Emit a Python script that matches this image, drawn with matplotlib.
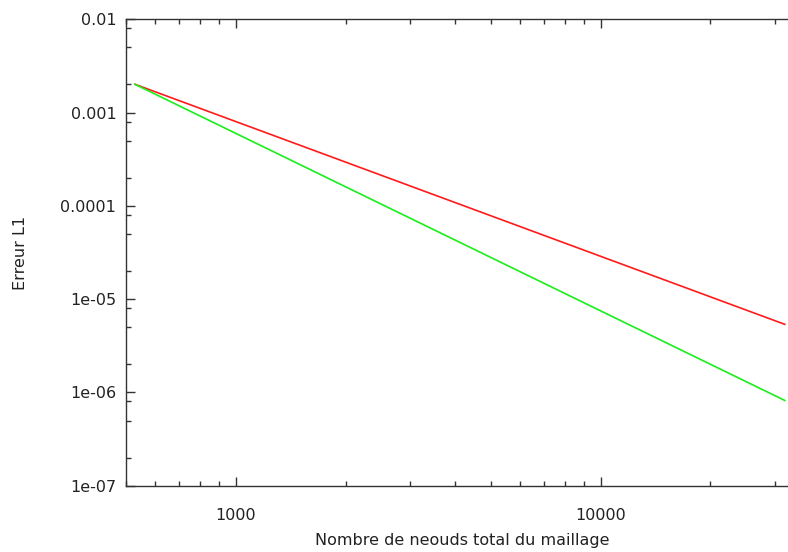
import matplotlib
matplotlib.use('Agg')
import matplotlib.pyplot as plt
from matplotlib.ticker import LogLocator, FixedLocator, FixedFormatter, NullFormatter

# nombre de noeuds du maillage et erreurs L1
nodes = [529, 32000]
err_red = [2.01e-3, 5.37e-6]
err_green = [2.01e-3, 8.2e-7]

x_major = [1000, 10000]
x_major_labels = ["1000", "10000"]
y_major = [1e-2, 1e-3, 1e-4, 1e-5, 1e-6, 1e-7]
y_major_labels = ["0.01", "0.001", "0.0001", "1e-05", "1e-06", "1e-07"]

fig = plt.figure(figsize=(7.88, 5.52), dpi=100)
# axes slightly wider than the image, the right border is cut off
ax = fig.add_axes([126 / 788, 1 - 485.7 / 552, (799 - 126) / 788, (485.7 - 19.3) / 552])

ax.plot(nodes, err_red, color='#ff1a1a', lw=1.2)
ax.plot(nodes, err_green, color='#1aee1a', lw=1.2)

ax.set_xscale('log')
ax.set_yscale('log')
ax.set_xlim(500, 35000)
ax.set_ylim(1e-7, 1e-2)

ax.xaxis.set_major_locator(FixedLocator(x_major))
ax.xaxis.set_major_formatter(FixedFormatter(x_major_labels))
ax.xaxis.set_minor_locator(LogLocator(base=10, subs=range(2, 10)))
ax.xaxis.set_minor_formatter(NullFormatter())

ax.yaxis.set_major_locator(FixedLocator(y_major))
ax.yaxis.set_major_formatter(FixedFormatter(y_major_labels))
ax.yaxis.set_minor_locator(LogLocator(base=10, subs=(2, 5, 8)))
ax.yaxis.set_minor_formatter(NullFormatter())

ax.tick_params(which='both', direction='in', top=True, right=True,
               color='#333333', width=1.0)
ax.tick_params(which='major', length=6.5, labelsize=11.5,
               labelcolor='#222222')
ax.tick_params(axis='x', which='major', pad=16)
ax.tick_params(axis='y', which='major', pad=7)
ax.tick_params(which='minor', length=3.8)
for s in ax.spines.values():
    s.set_color('#333333')
    s.set_linewidth(1.0)

ax.set_xlabel("Nombre de neouds total du maillage", fontsize=11.5,
              color='#222222', labelpad=7)
ax.set_ylabel("Erreur L1", fontsize=11.5, color='#222222')
ax.yaxis.set_label_coords((28 - 126) / 673, 0.5)

plt.savefig('out.png', dpi=100)
